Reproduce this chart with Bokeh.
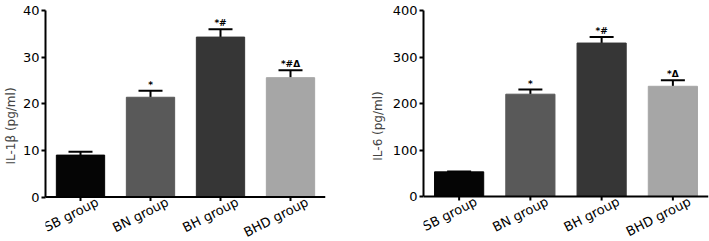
import math
from bokeh.plotting import figure
from bokeh.models import (ColumnDataSource, Whisker, TeeHead, FixedTicker, FactorRange,
                          Range1d, Span)
from bokeh.layouts import row
from bokeh.embed import file_html
from bokeh.resources import INLINE
from bokeh.core.properties import value

groups = ["SB group", "BN group", "BH group", "BHD group"]
colors = ["#050505", "#595959", "#363636", "#a6a6a6"]

il1b_mean = [9.0, 21.4, 34.3, 25.6]
il1b_upper = [9.7, 22.8, 36.0, 27.2]
il1b_marks = ["", "*", "*#", "*#\u0394"]
il1b_ticks = [0, 10, 20, 30, 40]

il6_mean = [53, 220, 330, 237]
il6_upper = [54, 230, 343, 250]
il6_marks = ["", "*", "*#", "*\u0394"]
il6_ticks = [0, 100, 200, 300, 400]

FONT = "DejaVu Sans"
HEIGHT = 241
BELOW = 45  # pixels between the zero line and the bottom of the page


def make_panel(means, uppers, marks, ticks, ylabel, width, bl, br, bt, ymax, label_standoff):
    src = ColumnDataSource(dict(x=groups, top=means, upper=uppers, color=colors, mark=marks,
                                zero=[0] * len(groups)))
    plot_px = HEIGHT - bt - BELOW
    ystart = -ymax * BELOW / plot_px
    p = figure(x_range=FactorRange(*groups, range_padding=0.0), y_range=Range1d(ystart, ymax),
               width=width, height=HEIGHT, output_backend="svg", toolbar_location=None,
               min_border_left=bl, min_border_right=br, min_border_top=bt, min_border_bottom=0)
    p.outline_line_color = None
    p.grid.visible = False
    p.xaxis.visible = False
    # category tick marks (upper half hidden by the bars drawn afterwards)
    p.scatter(x="x", y="zero", source=src, marker="dash", angle=math.pi / 2, size=8,
              line_width=2, line_color="black")
    p.vbar(x="x", top="top", bottom="zero", width=0.69, color="color", source=src)
    p.add_layout(Span(location=0, dimension="width", line_color="black", line_width=2))
    w = Whisker(base="x", lower="top", upper="upper", source=src, dimension="height",
                line_color="black", line_width=2,
                upper_head=TeeHead(size=24, line_width=2, line_color="black"), lower_head=None)
    p.add_layout(w)
    p.text(x="x", y="upper", text="mark", source=src, text_align="center", text_baseline="bottom",
           text_font=value(FONT), text_font_size="9px", text_font_style="bold", y_offset=-1,
           text_color="black")
    # rotated category names below the zero line
    p.text(x="x", y="zero", text="x", source=src, angle=math.radians(27),
           text_align="right", text_baseline="middle", x_offset=17, y_offset=4,
           text_font=value(FONT), text_font_size="13px", text_color="black")
    ax = p.yaxis[0]
    ax.axis_line_width = 2
    ax.major_tick_line_width = 2
    ax.major_tick_out = 4
    ax.major_tick_in = 0
    ax.minor_tick_line_color = None
    ax.major_label_text_font = FONT
    ax.major_label_text_font_size = "13px"
    ax.major_label_text_color = "black"
    ax.ticker = FixedTicker(ticks=ticks)
    ax.bounds = (0, ymax)
    ax.major_label_standoff = 2
    ax.axis_label = ylabel
    ax.axis_label_text_font = FONT
    ax.axis_label_text_font_size = "12px"
    ax.axis_label_text_font_style = "normal"
    ax.axis_label_standoff = label_standoff
    return p


p1 = make_panel(il1b_mean, il1b_upper, il1b_marks, il1b_ticks, "IL-1\u03b2 (pg/ml)",
                355, 38, 30, 7, 40, 2)
p2 = make_panel(il6_mean, il6_upper, il6_marks, il6_ticks, "IL-6 (pg/ml)",
                354, 68, 1, 10, 400, 5)

layout = row(p1, p2)
open("out.html", "w").write(file_html(layout, INLINE))
